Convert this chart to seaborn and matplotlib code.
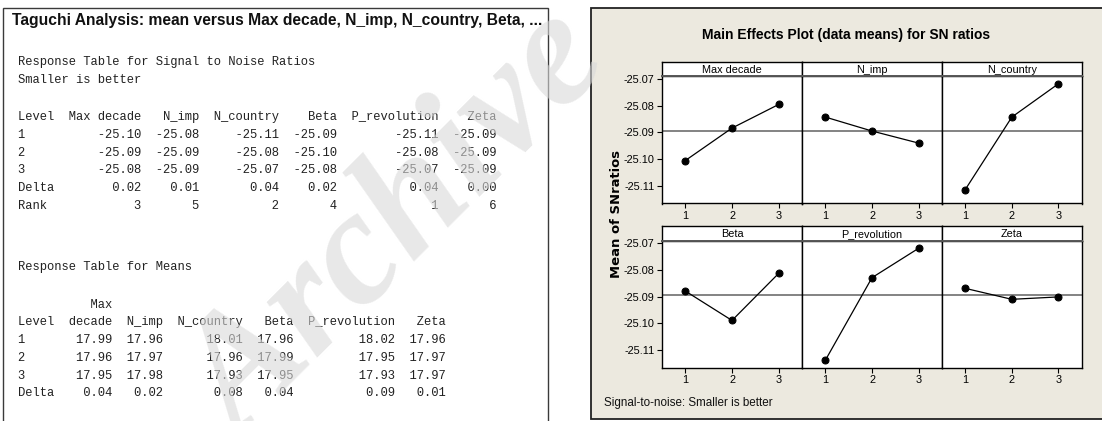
import numpy as np
import pandas as pd
import matplotlib
matplotlib.use("Agg")
import matplotlib.pyplot as plt
import seaborn as sns
from matplotlib import font_manager
from matplotlib.patches import Rectangle

# ---------------- data ----------------
factors = ["Max decade", "N_imp", "N_country", "Beta", "P_revolution", "Zeta"]
levels = [1, 2, 3]

# main-effects plot values (mean of SN ratios per level)
sn_max_decade = [-25.1005, -25.0884, -25.0796]
sn_n_imp = [-25.0843, -25.0895, -25.0940]
sn_n_country = [-25.1113, -25.0843, -25.0719]
sn_beta = [-25.0879, -25.0989, -25.0813]
sn_p_revolution = [-25.1138, -25.0829, -25.0719]
sn_zeta = [-25.0869, -25.0910, -25.0901]

# response table for signal to noise ratios
sn_level1 = [-25.10, -25.08, -25.11, -25.09, -25.11, -25.09]
sn_level2 = [-25.09, -25.09, -25.08, -25.10, -25.08, -25.09]
sn_level3 = [-25.08, -25.09, -25.07, -25.08, -25.07, -25.09]
sn_delta = [0.02, 0.01, 0.04, 0.02, 0.04, 0.00]
sn_rank = [3, 5, 2, 4, 1, 6]

# response table for means
mean_level1 = [17.99, 17.96, 18.01, 17.96, 18.02, 17.96]
mean_level2 = [17.96, 17.97, 17.96, 17.99, 17.95, 17.97]
mean_level3 = [17.95, 17.98, 17.93, 17.95, 17.93, 17.97]
mean_delta = [0.04, 0.02, 0.08, 0.04, 0.09, 0.01]

y_ticks = [-25.11, -25.10, -25.09, -25.08, -25.07]

# ---------------- style ----------------
sns.set_theme(style="white")
plt.rcParams['font.family'] = ['DejaVu Sans']
available = {f.name for f in font_manager.fontManager.ttflist}
NARROW = "Liberation Sans Narrow" if "Liberation Sans Narrow" in available else "Liberation Sans"
MONO = "Liberation Mono" if "Liberation Mono" in available else "DejaVu Sans Mono"
SERIF = "Liberation Serif" if "Liberation Serif" in available else "DejaVu Serif"

W, H = 1102, 421
fig = plt.figure(figsize=(W / 100, H / 100), dpi=100)
fig.patch.set_facecolor("white")
renderer = fig.canvas.get_renderer()


def fx(x):
    return x / W


def fy(y):
    return 1 - y / H


def fit(t, target, axis="w"):
    bb = t.get_window_extent(renderer=renderer)
    cur = bb.width if axis == "w" else bb.height
    t.set_fontsize(t.get_fontsize() * target / cur)


# ---------------- left: session window text ----------------
fig.add_artist(Rectangle((fx(3), fy(460)), fx(548) - fx(3), fy(8) - fy(460),
                         transform=fig.transFigure, fill=False,
                         edgecolor="#3a3a3a", lw=1.0, zorder=1))

t = fig.text(fx(12.5), fy(20), "Taguchi Analysis: mean versus Max decade, N_imp, N_country, Beta, ...",
             family="Liberation Sans", weight="bold", fontsize=11, color="#111111",
             ha="left", va="center")
fit(t, 532)


def row(label, vals, widths, fmt):
    s = label.ljust(widths[0])
    for v, w in zip(vals, widths[1:]):
        s += format(v, fmt).rjust(w)
    return s


sn_w = [5, 12, 8, 11, 8, 14, 8]
mn_w = [5, 8, 7, 11, 7, 14, 7]
mn_names = ["decade", "N_imp", "N_country", "Beta", "P_revolution", "Zeta"]

lines = [
    (62.5, "Response Table for Signal to Noise Ratios"),
    (80.3, "Smaller is better"),
    (116.9, "Level" + "".join(n.rjust(w) for n, w in zip(factors, sn_w[1:]))),
    (134.7, row("1", sn_level1, sn_w, ".2f")),
    (152.5, row("2", sn_level2, sn_w, ".2f")),
    (170.3, row("3", sn_level3, sn_w, ".2f")),
    (188.1, row("Delta", sn_delta, sn_w, ".2f")),
    (205.9, row("Rank", sn_rank, sn_w, "d")),
    (267.0, "Response Table for Means"),
    (304.5, "".ljust(mn_w[0]) + "Max".rjust(mn_w[1])),
    (322.3, "Level" + "".join(n.rjust(w) for n, w in zip(mn_names, mn_w[1:]))),
    (340.1, row("1", mean_level1, mn_w, ".2f")),
    (357.9, row("2", mean_level2, mn_w, ".2f")),
    (375.7, row("3", mean_level3, mn_w, ".2f")),
    (393.5, row("Delta", mean_delta, mn_w, ".2f")),
]
for yy, s in lines:
    fig.text(fx(17.9), fy(yy), s, family=MONO, fontsize=8.76, color="#222222",
             ha="left", va="center")

# ---------------- right: main effects plot ----------------
fig.add_artist(Rectangle((fx(591), fy(419)), fx(1120) - fx(591), fy(8) - fy(419),
                         transform=fig.transFigure, facecolor="#ECE9DF",
                         edgecolor="#222222", lw=1.3, zorder=-5))

t = fig.text(fx(846), fy(35), "Main Effects Plot (data means) for SN ratios",
             family=NARROW, weight="bold", fontsize=11, color="black",
             ha="center", va="center")
fit(t, 290)

t = fig.text(fx(616), fy(214), "Mean of SNratios", family="DejaVu Sans", weight="bold",
             rotation=90, fontsize=9, color="black", ha="center", va="center")
fit(t, 127, axis="h")

t = fig.text(fx(604), fy(403), "Signal-to-noise: Smaller is better", family="Liberation Sans",
             fontsize=9, color="#111111", ha="left", va="center")
fit(t, 169)

series = [sn_max_decade, sn_n_imp, sn_n_country, sn_beta, sn_p_revolution, sn_zeta]
grand_mean = float(np.mean(np.array(series)))

col_x = [662, 802, 942, 1081.7]
rows_geom = [(62.3, 76.0, 203.5), (225.7, 240.5, 367.5)]
ylim = (-25.1165, -25.0690)

for i, (name, vals) in enumerate(zip(factors, series)):
    r, c = divmod(i, 3)
    top, sbot, bot = rows_geom[r]
    x0, x1 = col_x[c], col_x[c + 1]
    ax = fig.add_axes([fx(x0), fy(bot), fx(x1) - fx(x0), fy(sbot) - fy(bot)])
    ax.set_facecolor("white")
    df = pd.DataFrame({"Level": levels, "SN": vals})
    ax.axhline(grand_mean, color="#7a7a7a", lw=1.3, zorder=1)
    sns.lineplot(data=df, x="Level", y="SN", ax=ax, color="black", lw=0.9,
                 marker="o", markersize=5, markeredgecolor="black", zorder=3)
    ax.set_xlim(0.5, 3.5)
    ax.set_ylim(*ylim)
    ax.set_xlabel("")
    ax.set_ylabel("")
    ax.set_xticks(levels)
    ax.set_xticklabels([str(v) for v in levels], family=NARROW, fontsize=7.8)
    ax.tick_params(axis="x", direction="out", length=3.5, width=0.8, pad=2, colors="black",
                   bottom=True)
    if c == 0:
        ax.set_yticks(y_ticks)
        ax.set_yticklabels([f"{v:.2f}" for v in y_ticks], family=NARROW, fontsize=7.8)
        ax.tick_params(axis="y", direction="out", length=3.5, width=0.8, pad=2,
                       colors="black", left=True)
    else:
        ax.tick_params(axis="y", left=False, labelleft=False)
    for sp in ax.spines.values():
        sp.set_color("black")
        sp.set_linewidth(1.0)

    sax = fig.add_axes([fx(x0), fy(sbot), fx(x1) - fx(x0), fy(top) - fy(sbot)])
    sax.set_facecolor("white")
    sax.set_xticks([])
    sax.set_yticks([])
    for sp in sax.spines.values():
        sp.set_color("black")
        sp.set_linewidth(1.0)
    sax.spines["bottom"].set_color("#555555")
    sax.spines["bottom"].set_linewidth(1.4)
    sax.text(0.5, 0.45, name, transform=sax.transAxes, family=NARROW, fontsize=7.8,
             ha="center", va="center", color="black")

# ---------------- watermark ----------------
fig.text(fx(400), fy(228), "Archive", rotation=45, rotation_mode="anchor",
         family=SERIF, weight="bold", style="italic", fontsize=118,
         color=(0.85, 0.85, 0.85), alpha=0.6, ha="center", va="center", zorder=10)

fig.savefig("out.png", dpi=100, facecolor="white")
